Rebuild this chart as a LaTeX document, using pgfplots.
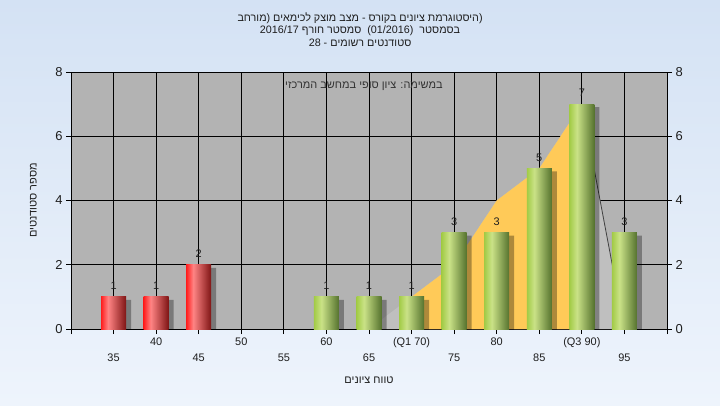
\documentclass[border=0pt]{standalone}
\usepackage{pgfplots}
\pgfplotsset{compat=1.18}
\usepackage{fontspec}
\setmainfont{Liberation Sans}
\newfontfamily\heb[Script=Hebrew]{Liberation Sans}
\TeXXeTstate=1
\definecolor{bgtop}{HTML}{D4E2F4}
\definecolor{bgbot}{HTML}{EEF4FC}
\definecolor{plotbg}{HTML}{B3B3B3}
\definecolor{areaor}{HTML}{FFCA58}
\definecolor{areagr}{HTML}{BFBFBF}
\definecolor{redA}{HTML}{FF1E1E}
\definecolor{redB}{HTML}{FF8484}
\definecolor{redC}{HTML}{7E1414}
\definecolor{grA}{HTML}{A2CB46}
\definecolor{grB}{HTML}{CAE287}
\definecolor{grC}{HTML}{55722E}
\definecolor{txt}{HTML}{1E1E1E}
\pgfdeclarehorizontalshading{redbar}{100bp}{color(0bp)=(redA); color(25bp)=(redA); color(39bp)=(redB); color(75bp)=(redC); color(100bp)=(redC)}
\pgfdeclarehorizontalshading{greenbar}{100bp}{color(0bp)=(grA); color(25bp)=(grA); color(40bp)=(grB); color(75bp)=(grC); color(100bp)=(grC)}

\pgfplotstableread{
x y
35 1
40 1
45 2
}\redtab
\pgfplotstableread{
x y
60 1
65 1
70 1
75 3
80 3
85 5
90 7
95 3
}\greentab

\begin{document}
\begin{tikzpicture}[x=1bp,y=1bp]
\shade[top color=bgtop, bottom color=bgbot] (0,0) rectangle (720,405);
\begin{axis}[
  at={(71bp,76bp)}, anchor=south west,
  width=596bp, height=257bp, scale only axis,
  xmin=30, xmax=100, ymin=0, ymax=8,
  axis background/.style={fill=plotbg},
  xtick={40,50,60,70,80,90},
  xticklabels={40,50,60,(Q1 70),80,(Q3 90)},
  extra x ticks={30,35,45,55,65,75,85,95,100},
  extra x tick labels={,35,45,55,65,75,85,95,},
  extra x tick style={grid=major, tick label style={yshift=-16bp}},
  ytick={0,2,4,6,8},
  grid=major,
  major grid style={black, line width=0.8bp},
  tick align=outside, major tick length=5bp,
  tick style={black, line width=0.8bp},
  xtick pos=bottom, ytick pos=left,
  axis line style={black, line width=0.8bp},
  /pgf/number format/assume math mode=true,
  x tick label style={font=\fontsize{11}{13}\selectfont, text=txt},
  y tick label style={font=\fontsize{13}{15}\selectfont, text=txt},
  xlabel={\heb\beginR טווח ציונים\endR},
  ylabel={\heb\beginR מספר סטודנטים\endR},
  every axis x label/.style={at={(axis description cs:0.5,-0.198)}, anchor=center, font=\fontsize{11}{13}\selectfont, text=txt},
  every axis y label/.style={at={(axis description cs:-0.063,0.5)}, rotate=90, anchor=center, font=\fontsize{11}{13}\selectfont, text=txt},
  title={\heb\beginR (היסטוגרמת ציונים בקורס - מצב מוצק לכימאים (מורחב\endR\\\beginR בסמסטר \ (01/2016) \ סמסטר חורף 2016/17\endR\\\beginR סטודנטים רשומים - 28\endR},
  every axis title/.style={at={(axis description cs:0.485,1.165)}, anchor=center, align=center, font=\fontsize{10.8}{12.8}\selectfont, text=txt},
  ybar, bar width=25bp,
  nodes near coords style={font=\fontsize{11}{13}\selectfont, text=txt, anchor=south, inner sep=0pt, yshift=7bp},
  rbar/.style={ybar, bar shift=0pt, shading=redbar, shading angle=0, draw=none, nodes near coords},
  gbar/.style={ybar, bar shift=0pt, shading=greenbar, shading angle=0, draw=none, nodes near coords},
]
% light gray area (shadow of area)
\addplot[sharp plot, fill=areagr, draw=none] coordinates {(65,0) (70,1) (75,2) (80,4) (85,5) (90,7) (95,0)} \closedcycle;
% orange area
\addplot[sharp plot, fill=areaor, draw=none] coordinates {(70,1) (75,2) (80,4) (85,5) (90,7)} \closedcycle;
\addplot[sharp plot, draw=black!75, line width=0.8bp] coordinates {(90,7) (95,0)};
% bar shadows
\addplot[ybar, bar shift=5bp, fill=black, fill opacity=0.32, draw=none, yshift=-3bp] table[x=x,y=y] {\redtab};
\addplot[ybar, bar shift=5bp, fill=black, fill opacity=0.32, draw=none, yshift=-3bp] table[x=x,y=y] {\greentab};
% bars (one plot per bar so each gets its own cylinder shading)
\addplot[rbar] coordinates {(35,1)};
\addplot[rbar] coordinates {(40,1)};
\addplot[rbar] coordinates {(45,2)};
\addplot[gbar] coordinates {(60,1)};
\addplot[gbar] coordinates {(65,1)};
\addplot[gbar] coordinates {(70,1)};
\addplot[gbar] coordinates {(75,3)};
\addplot[gbar] coordinates {(80,3)};
\addplot[gbar] coordinates {(85,5)};
\addplot[gbar] coordinates {(90,7)};
\addplot[gbar] coordinates {(95,3)};
\node[font=\fontsize{11}{13}\selectfont\heb, text=black!80] at (axis cs:64.4,7.56) {\beginR במשימה: ציון סופי במחשב המרכזי\endR};
\end{axis}
\begin{axis}[
  at={(71bp,76bp)}, anchor=south west,
  width=596bp, height=257bp, scale only axis,
  xmin=30, xmax=100, ymin=0, ymax=8,
  axis x line=none, axis y line*=right,
  ytick={0,2,4,6,8},
  tick align=outside, major tick length=5bp,
  tick style={black, line width=0.8bp},
  axis line style={black, line width=0.8bp},
  /pgf/number format/assume math mode=true,
  y tick label style={font=\fontsize{13}{15}\selectfont, text=txt},
]
\end{axis}
\end{tikzpicture}
\end{document}
